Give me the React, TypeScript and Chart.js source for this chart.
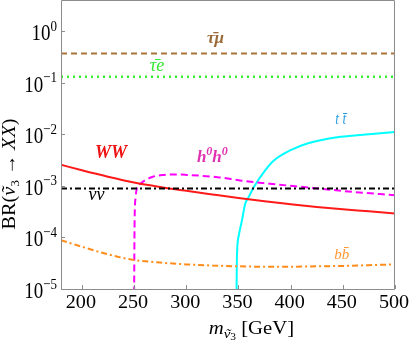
import React, { useEffect, useRef } from 'react';
import { Chart, registerables } from 'chart.js';

Chart.register(...registerables);

// ---- data ----
const X_TICKS = [200, 250, 300, 350, 400, 450, 500];
const Y_EXPONENTS = [-5, -4, -3, -2, -1, 0];

const TAU_MU_X = [180, 500];
const TAU_MU_Y = [0.368, 0.368];

const TAU_E_X = [180, 500];
const TAU_E_Y = [0.13, 0.13];

const NUNU_X = [180, 500];
const NUNU_Y = [8.9e-4, 8.9e-4];

const WW_X = [180, 200, 225, 250, 275, 300, 325, 350, 375, 400, 425, 450, 475, 500];
const WW_Y = [2.56e-3, 2.0e-3, 1.5e-3, 1.16e-3, 9.5e-4, 8.0e-4, 6.8e-4, 5.8e-4, 5.0e-4, 4.4e-4, 3.9e-4, 3.5e-4, 3.2e-4, 2.9e-4];

const BB_X = [180, 200, 217, 237, 250, 275, 300, 325, 350, 375, 400, 425, 450, 475, 500];
const BB_Y = [8.8e-5, 6.6e-5, 5.2e-5, 4.1e-5, 3.65e-5, 3.25e-5, 3.0e-5, 2.85e-5, 2.75e-5, 2.7e-5, 2.7e-5, 2.75e-5, 2.8e-5, 2.9e-5, 3.0e-5];

const HH_X = [250.0, 250.5, 251.5, 253, 256, 260, 268, 277, 290, 300, 330, 353, 380, 400, 428, 460, 500];
const HH_Y = [5e-6, 2e-4, 6e-4, 9.5e-4, 1.1e-3, 1.26e-3, 1.5e-3, 1.62e-3, 1.66e-3, 1.63e-3, 1.47e-3, 1.26e-3, 1.1e-3, 1.0e-3, 8.8e-4, 7.6e-4, 6.6e-4];

const TT_X = [348.2, 348.5, 350, 353.3, 356.5, 359.7, 364.5, 375.6, 384, 400, 416, 448, 475, 500];
const TT_Y = [8e-6, 3.8e-5, 1e-4, 2.1e-4, 4.5e-4, 6e-4, 9.3e-4, 2e-3, 3.1e-3, 4.9e-3, 6.6e-3, 8.9e-3, 1.0e-2, 1.1e-2];

// label anchor positions in data coordinates (center x, baseline y)
const LABEL_X = { taumu: 328, taue: 272, tt: 448, hh: 325, ww: 228, nunu: 214, bb: 449 };
const LABEL_Y = { taumu: 0.585, taue: 0.167, tt: 0.0156, hh: 2.84e-3, ww: 3.4e-3, nunu: 5.2e-4, bb: 3.87e-5 };

const SERIF = '"Liberation Serif", "Times New Roman", serif';

type Seg = { t: string; f: string; dy?: number; c?: string; acc?: string; accDx?: number; accDy?: number };

function drawSegs(
  ctx: CanvasRenderingContext2D,
  segs: Seg[],
  x: number,
  y: number,
  align: 'left' | 'center' | 'right',
  sx = 1,
  sy = 1,
  rot = 0
) {
  let w = 0;
  for (const s of segs) {
    ctx.font = s.f;
    w += ctx.measureText(s.t).width;
  }
  ctx.save();
  ctx.translate(x, y);
  if (rot) ctx.rotate(rot);
  ctx.scale(sx, sy);
  let cx = align === 'left' ? 0 : align === 'center' ? -w / 2 : -w;
  ctx.textBaseline = 'alphabetic';
  ctx.textAlign = 'left';
  for (const s of segs) {
    ctx.font = s.f;
    if (s.c) ctx.fillStyle = s.c;
    const gw = ctx.measureText(s.t).width;
    ctx.fillText(s.t, cx, s.dy ?? 0);
    if (s.acc) {
      ctx.textAlign = 'center';
      ctx.fillText(s.acc, cx + gw / 2 + (s.accDx ?? 0), (s.dy ?? 0) + (s.accDy ?? 0));
      ctx.textAlign = 'left';
    }
    cx += gw;
  }
  ctx.restore();
}

const overlay = {
  id: 'overlay',
  afterDraw(chart: any) {
    const { ctx, chartArea: a } = chart;
    const xs = chart.scales.x;
    const ys = chart.scales.y;
    ctx.save();
    // frame
    ctx.lineWidth = 1;
    ctx.strokeStyle = '#8c8c8c';
    ctx.beginPath();
    ctx.moveTo(a.left + 0.5, a.bottom + 0.5);
    ctx.lineTo(a.left + 0.5, a.top + 0.5);
    ctx.lineTo(a.right - 0.5, a.top + 0.5);
    ctx.lineTo(a.right - 0.5, a.bottom + 0.5);
    ctx.closePath();
    ctx.stroke();
    // inner ticks
    ctx.beginPath();
    for (const v of X_TICKS) {
      const px = Math.round(xs.getPixelForValue(v)) + 0.5;
      ctx.moveTo(px, a.bottom);
      ctx.lineTo(px, a.bottom - 4);
    }
    for (const e of Y_EXPONENTS) {
      const py = Math.round(ys.getPixelForValue(Math.pow(10, e))) + 0.5;
      ctx.moveTo(a.left, py);
      ctx.lineTo(a.left + 4, py);
    }
    ctx.stroke();

    ctx.fillStyle = '#000';
    // x tick labels
    for (const v of X_TICKS) {
      const px = xs.getPixelForValue(v);
      drawSegs(ctx, [{ t: String(v), f: `18px ${SERIF}` }], px - 1, a.bottom + 19, 'center', 1.12, 1);
    }
    // y tick labels
    for (const e of Y_EXPONENTS) {
      const py = ys.getPixelForValue(Math.pow(10, e));
      const exp = e === 0 ? '0' : '\u2212' + Math.abs(e);
      drawSegs(
        ctx,
        [
          { t: '10', f: `19px ${SERIF}` },
          { t: exp, f: `13px ${SERIF}`, dy: -8 },
        ],
        a.left - 4,
        py + 9,
        'right',
        1,
        1.18
      );
    }
    // x title
    const italic = (s: number) => `italic ${s}px ${SERIF}`;
    const roman = (s: number) => `${s}px ${SERIF}`;
    drawSegs(
      ctx,
      [
        { t: 'm', f: italic(18) },
        { t: '\u03bd', f: italic(13), dy: 4, acc: '\u02dc', accDx: 1, accDy: 0 },
        { t: '3', f: roman(10), dy: 6 },
        { t: ' [GeV]', f: roman(18) },
      ],
      a.left + (a.right - a.left) * 0.57,
      a.bottom + 45,
      'center',
      1.15,
      1
    );
    // y title
    drawSegs(
      ctx,
      [
        { t: 'BR(', f: roman(18) },
        { t: '\u03bd', f: italic(18), acc: '\u02dc', accDx: 1, accDy: 0 },
        { t: '3', f: roman(12), dy: 4 },
        { t: ' \u2192 ', f: roman(18) },
        { t: 'XX', f: italic(18) },
        { t: ')', f: roman(18) },
      ],
      15,
      174,
      'center',
      1.12,
      1,
      -Math.PI / 2
    );

    // curve labels
    const lx = (k: keyof typeof LABEL_X) => xs.getPixelForValue(LABEL_X[k]);
    const ly = (k: keyof typeof LABEL_Y) => ys.getPixelForValue(LABEL_Y[k]);
    const bi = (s: number) => `bold italic ${s}px ${SERIF}`;
    drawSegs(ctx, [{ t: '\u03c4\u0304\u03bc', f: bi(17), c: '#9a6a38' }], lx('taumu'), ly('taumu'), 'center');
    drawSegs(ctx, [{ t: '\u03c4\u0304e', f: italic(18), c: '#33e833' }], lx('taue'), ly('taue'), 'center');
    drawSegs(ctx, [{ t: 't t\u0304', f: italic(16), c: '#2a9de0' }], lx('tt'), ly('tt'), 'center', 0.85, 1);
    drawSegs(
      ctx,
      [
        { t: 'h', f: bi(17), c: '#e030b0' },
        { t: '0', f: bi(12), dy: -7 },
        { t: 'h', f: bi(17) },
        { t: '0', f: bi(12), dy: -7 },
      ],
      lx('hh'),
      ly('hh'),
      'center'
    );
    drawSegs(ctx, [{ t: 'WW', f: bi(18), c: '#ee1111' }], lx('ww'), ly('ww'), 'center');
    drawSegs(ctx, [{ t: '\u03bd\u03bd', f: italic(18), c: '#000' }], lx('nunu'), ly('nunu'), 'center');
    drawSegs(ctx, [{ t: 'bb\u0304', f: italic(15), c: '#ff9a33' }], lx('bb'), ly('bb'), 'center');
    ctx.restore();
  },
};

function pts(xs: number[], ys: number[]) {
  return xs.map((x, i) => ({ x, y: ys[i] }));
}

export default function App() {
  const ref = useRef<HTMLCanvasElement | null>(null);
  useEffect(() => {
    document.body.style.margin = '0';
    const canvas = ref.current!;
    const base = {
      pointRadius: 0,
      borderWidth: 2,
      fill: false,
      cubicInterpolationMode: 'monotone' as const,
    };
    const chart = new Chart(canvas, {
      type: 'line',
      data: {
        datasets: [
          { ...base, label: 'taumu', data: pts(TAU_MU_X, TAU_MU_Y), borderColor: '#a8743c', borderDash: [6, 4] },
          { ...base, label: 'taue', data: pts(TAU_E_X, TAU_E_Y), borderColor: '#33f033', borderDash: [2, 4], borderWidth: 2.5 },
          { ...base, label: 'nunu', data: pts(NUNU_X, NUNU_Y), borderColor: '#000000', borderDash: [6, 3, 2, 3] },
          { ...base, label: 'WW', data: pts(WW_X, WW_Y), borderColor: '#ff1a1a' },
          { ...base, label: 'bb', data: pts(BB_X, BB_Y), borderColor: '#ff8c1a', borderDash: [6, 3, 2, 3] },
          { ...base, label: 'hh', data: pts(HH_X, HH_Y), borderColor: '#ff00ff', borderDash: [7, 4] },
          { ...base, label: 'tt', data: pts(TT_X, TT_Y), borderColor: '#00ffff' },
        ],
      },
      options: {
        responsive: false,
        animation: false,
        events: [],
        layout: { padding: { top: 0, right: 14, left: 0, bottom: 0 } },
        plugins: { legend: { display: false }, tooltip: { enabled: false } },
        scales: {
          x: {
            type: 'linear',
            min: 180,
            max: 500,
            grid: { display: false },
            border: { display: false },
            ticks: { display: false },
            afterBuildTicks: (s: any) => {
              s.ticks = X_TICKS.map((v) => ({ value: v }));
            },
            afterFit: (s: any) => {
              s.height = 65;
            },
          },
          y: {
            type: 'logarithmic',
            min: 1e-5,
            max: 4,
            grid: { display: false },
            border: { display: false },
            ticks: { display: false },
            afterBuildTicks: (s: any) => {
              s.ticks = Y_EXPONENTS.map((e) => ({ value: Math.pow(10, e) }));
            },
            afterFit: (s: any) => {
              s.width = 61;
            },
          },
        },
      },
      plugins: [overlay],
    });
    return () => chart.destroy();
  }, []);
  return <canvas ref={ref} width={409} height={354} style={{ display: 'block' }} />;
}
